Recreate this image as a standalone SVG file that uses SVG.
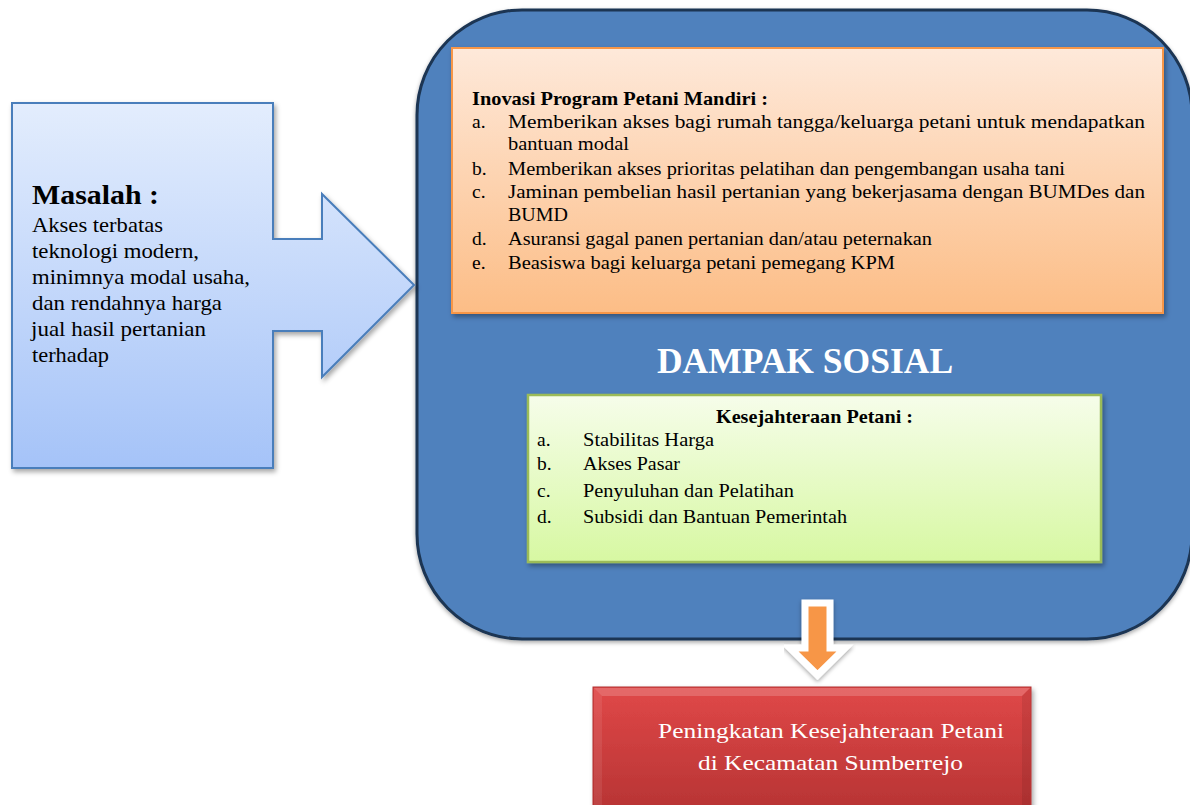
<svg xmlns="http://www.w3.org/2000/svg" width="1190" height="805" viewBox="0 0 1190 805">
<defs>
<style>
.serif{font-family:"Liberation Serif","Times New Roman",serif;fill:#000}
.t19{font-size:19.5px}
.b{font-weight:bold}
.white{fill:#fff}
</style>
<linearGradient id="gBlue" x1="0" y1="0" x2="0" y2="1"><stop offset="0" stop-color="#e3edfd"/><stop offset="1" stop-color="#a5c3f8"/></linearGradient>
<linearGradient id="gOrange" x1="0" y1="0" x2="0" y2="1"><stop offset="0" stop-color="#fee9da"/><stop offset="1" stop-color="#fcbd86"/></linearGradient>
<linearGradient id="gGreen" x1="0" y1="0" x2="0" y2="1"><stop offset="0" stop-color="#f6fdea"/><stop offset="1" stop-color="#d7f8a2"/></linearGradient>
<linearGradient id="gRed" x1="0" y1="0" x2="0" y2="1"><stop offset="0" stop-color="#e04848"/><stop offset="1" stop-color="#b53333"/></linearGradient>
<filter id="sh" x="-10%" y="-10%" width="130%" height="130%"><feDropShadow dx="2" dy="3" stdDeviation="2.5" flood-color="#000" flood-opacity="0.35"/></filter>
<filter id="sh2" x="-10%" y="-10%" width="130%" height="130%"><feDropShadow dx="0" dy="2" stdDeviation="2" flood-color="#000" flood-opacity="0.35"/></filter>
</defs>

<g id="container">
<rect x="417" y="10" width="775" height="629" rx="105" ry="105" fill="#4f81bd" stroke="#1b3452" stroke-width="3" filter="url(#sh2)"/>
<text class="serif b white" x="805" y="373" font-size="35.5" text-anchor="middle" style="fill:#fff">DAMPAK SOSIAL</text>
</g>

<g id="masalah">
<path d="M12,103 H273 V239 H322 V194 L414,285 L322,377 V331 H273 V468 H12 Z" fill="url(#gBlue)" stroke="#4a7ebb" stroke-width="2" filter="url(#sh)"/>
<text class="serif b" x="32" y="204" font-size="28" textLength="127" lengthAdjust="spacingAndGlyphs">Masalah :</text>
<g class="serif" font-size="21">
<text x="32" y="232" textLength="131" lengthAdjust="spacingAndGlyphs">Akses terbatas</text>
<text x="32" y="258" textLength="167" lengthAdjust="spacingAndGlyphs">teknologi modern,</text>
<text x="32" y="284" textLength="218" lengthAdjust="spacingAndGlyphs">minimnya modal usaha,</text>
<text x="32" y="310" textLength="190" lengthAdjust="spacingAndGlyphs">dan rendahnya harga</text>
<text x="31" y="336" textLength="175" lengthAdjust="spacingAndGlyphs">jual hasil pertanian</text>
<text x="32" y="362" textLength="77" lengthAdjust="spacingAndGlyphs">terhadap</text>
</g>
</g>

<g id="inovasi">
<rect x="452" y="48" width="711" height="265" fill="url(#gOrange)" stroke="#f79646" stroke-width="2" filter="url(#sh)"/>
<g class="serif t19">
<text class="b" x="472" y="105" textLength="296" lengthAdjust="spacingAndGlyphs">Inovasi Program Petani Mandiri :</text>
<text x="472" y="128">a.</text>
<text x="508" y="128" textLength="637" lengthAdjust="spacingAndGlyphs">Memberikan akses bagi rumah tangga/keluarga petani untuk mendapatkan</text>
<text x="508" y="150" textLength="121" lengthAdjust="spacingAndGlyphs">bantuan modal</text>
<text x="472" y="175">b.</text>
<text x="508" y="175" textLength="557" lengthAdjust="spacingAndGlyphs">Memberikan akses prioritas pelatihan dan pengembangan usaha tani</text>
<text x="472" y="198">c.</text>
<text x="508" y="198" textLength="637" lengthAdjust="spacingAndGlyphs">Jaminan pembelian hasil pertanian yang bekerjasama dengan BUMDes dan</text>
<text x="508" y="221" textLength="60" lengthAdjust="spacingAndGlyphs">BUMD</text>
<text x="472" y="245">d.</text>
<text x="508" y="245" textLength="424" lengthAdjust="spacingAndGlyphs">Asuransi gagal panen pertanian dan/atau peternakan</text>
<text x="472" y="269">e.</text>
<text x="508" y="269" textLength="387" lengthAdjust="spacingAndGlyphs">Beasiswa bagi keluarga petani pemegang KPM</text>
</g>
</g>

<g id="kesejahteraan">
<rect x="528" y="395" width="573" height="167" fill="url(#gGreen)" stroke="#9bbb59" stroke-width="2.5" filter="url(#sh)"/>
<g class="serif t19">
<text class="b" x="716" y="423" textLength="197" lengthAdjust="spacingAndGlyphs">Kesejahteraan Petani :</text>
<text x="537" y="446">a.</text>
<text x="583" y="446" textLength="131" lengthAdjust="spacingAndGlyphs">Stabilitas Harga</text>
<text x="537" y="470">b.</text>
<text x="583" y="470" textLength="97" lengthAdjust="spacingAndGlyphs">Akses Pasar</text>
<text x="537" y="497">c.</text>
<text x="583" y="497" textLength="211" lengthAdjust="spacingAndGlyphs">Penyuluhan dan Pelatihan</text>
<text x="537" y="523">d.</text>
<text x="583" y="523" textLength="264" lengthAdjust="spacingAndGlyphs">Subsidi dan Bantuan Pemerintah</text>
</g>
</g>

<g id="connectors">
<path d="M805,603 H830 V648 H845 L817.5,675 L790,648 H805 Z" fill="#f79646" stroke="#fff" stroke-width="7" stroke-linejoin="miter" filter="url(#sh2)"/>
</g>

<g id="hasil">
<rect x="593" y="687" width="438" height="130" fill="url(#gRed)" stroke="#b03030" stroke-width="1" filter="url(#sh)"/>
<path d="M594,688 H1030 L1022,696 H602 Z" fill="#ffffff" opacity="0.18"/>
<path d="M594,688 L602,696 V817 H594 Z" fill="#ffffff" opacity="0.08"/>
<path d="M1030,688 L1022,696 V817 H1030 Z" fill="#000000" opacity="0.08"/>
<g class="serif" font-size="21">
<text class="white" style="fill:#fff" x="658" y="738" textLength="346" lengthAdjust="spacingAndGlyphs">Peningkatan Kesejahteraan Petani</text>
<text class="white" style="fill:#fff" x="698" y="770" textLength="265" lengthAdjust="spacingAndGlyphs">di Kecamatan Sumberrejo</text>
</g>
</g>
</svg>
